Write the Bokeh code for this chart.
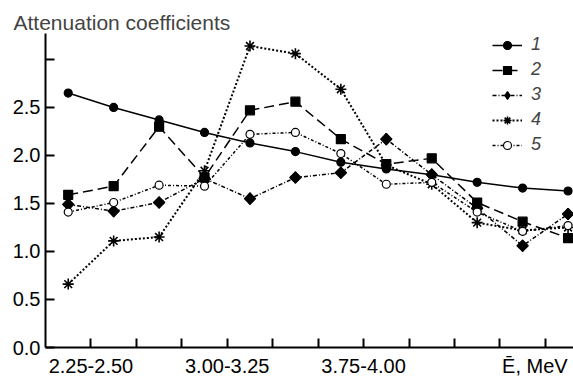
import math
from bokeh.plotting import figure
from bokeh.models import FixedTicker, Legend, LegendItem, Range1d, CustomJSTickFormatter, LinearAxis
from bokeh.embed import file_html
from bokeh.resources import INLINE

# ---- data ----
energy_bins = ["2.25-2.50", "2.50-2.75", "2.75-3.00", "3.00-3.25", "3.25-3.50", "3.50-3.75",
               "3.75-4.00", "4.00-4.25", "4.25-4.50", "4.50-4.75", "4.75-5.00", "5.00-5.25"]
x_idx = list(range(len(energy_bins)))
series_names = ["1", "2", "3", "4", "5"]
s1 = [2.65, 2.50, 2.37, 2.24, 2.13, 2.04, 1.93, 1.86, 1.80, 1.72, 1.66, 1.63]
s2 = [1.59, 1.68, 2.30, 1.77, 2.47, 2.56, 2.17, 1.91, 1.97, 1.51, 1.31, 1.14]
s3 = [1.49, 1.42, 1.51, 1.76, 1.55, 1.77, 1.82, 2.17, 1.80, 1.45, 1.06, 1.39]
s4 = [0.66, 1.11, 1.15, 1.84, 3.14, 3.06, 2.69, 1.90, 1.70, 1.30, 1.22, 1.25]
s5 = [1.41, 1.51, 1.69, 1.68, 2.22, 2.24, 2.02, 1.70, 1.72, 1.41, 1.21, 1.27]
x_tick_pos = [0.5, 1.5, 2.5, 3.5, 4.5, 5.5, 6.5, 7.5, 8.5, 9.5, 10.5]
x_label_pos = [0.5, 3.5, 6.5, 10.27]
x_label_text = ["2.25-2.50", "3.00-3.25", "3.75-4.00", "\u0112, MeV"]
y_ticks = [0.0, 0.5, 1.0, 1.5, 2.0, 2.5, 3.0]
y_title = "Attenuation coefficients"

FONT = "Liberation Sans"

p = figure(width=573, height=379, output_backend="svg", toolbar_location=None,
           x_range=Range1d(-0.5, 11.12), y_range=Range1d(0, 3.27),
           min_border_left=45, min_border_right=0, min_border_top=33, min_border_bottom=29)
p.outline_line_color = None
p.grid.visible = False
p.background_fill_color = "white"

p.title.text = y_title
p.title.text_font = FONT
p.title.text_font_size = "21px"
p.title.text_font_style = "normal"
p.title.align = "left"
p.title.offset = -32
p.title.standoff = 0

for ax in (p.xaxis[0], p.yaxis[0]):
    ax.axis_line_width = 2
    ax.major_tick_line_width = 2
    ax.major_tick_in = 9
    ax.major_tick_out = 0
    ax.minor_tick_line_color = None
    ax.major_label_text_font = FONT
    ax.major_label_text_font_size = "20px"
    ax.major_label_text_color = "black"
    ax.axis_line_color = "black"
    ax.major_tick_line_color = "black"

# tick marks only on the main x axis
p.xaxis.ticker = FixedTicker(ticks=x_tick_pos)
p.xaxis.formatter = CustomJSTickFormatter(code="return '';")
p.xaxis.major_label_text_font_size = "0px"
p.xaxis.major_label_standoff = 0

# labels on a second, line-less axis
lab_axis = LinearAxis(ticker=FixedTicker(ticks=x_label_pos),
                      formatter=CustomJSTickFormatter(args=dict(pos=x_label_pos, labels=x_label_text), code="""
  for (let i = 0; i < pos.length; i++) { if (Math.abs(pos[i] - tick) < 1e-6) return labels[i]; }
  return "";
"""))
lab_axis.axis_line_color = None
lab_axis.major_tick_line_color = None
lab_axis.minor_tick_line_color = None
lab_axis.major_tick_in = 0
lab_axis.major_tick_out = 0
lab_axis.major_label_standoff = 7
lab_axis.major_label_text_font = FONT
lab_axis.major_label_text_font_size = "20px"
lab_axis.major_label_text_color = "black"
p.add_layout(lab_axis, "below")

p.yaxis.ticker = FixedTicker(ticks=y_ticks)
p.yaxis.formatter = CustomJSTickFormatter(code="return tick > 2.9 ? '' : tick.toFixed(1);")
p.yaxis.major_label_standoff = 5

styles = [
    dict(data=s1, dash="solid", width=1.5, marker="circle", size=8, fill="black", mlw=1.2),
    dict(data=s2, dash="10 5", width=1.5, marker="square", size=9, fill="black", mlw=1.2),
    dict(data=s3, dash="4 2 1 2", width=1.5, marker="diamond", size=11.5, fill="black", mlw=1.2),
    dict(data=s4, dash="2 2", width=2, marker="asterisk", size=11, fill="black", mlw=1.6),
    dict(data=s5, dash="3 2 1 2", width=1.5, marker="circle", size=8, fill="white", mlw=1.2),
]

items = []
for name, st in zip(series_names, styles):
    r_line = p.line(x_idx, st["data"], line_color="black", line_width=st["width"], line_dash=st["dash"])
    r_mark = p.scatter(x_idx, st["data"], marker=st["marker"], size=st["size"],
                       fill_color=st["fill"], line_color="black", line_width=st["mlw"])
    if st["marker"] == "diamond":
        # wider, square-shaped diamond drawn over the key-shaped one
        p.scatter(x_idx, st["data"], marker="square", size=8, angle=math.pi / 4,
                  fill_color=st["fill"], line_color="black", line_width=st["mlw"])
    items.append(LegendItem(label=name, renderers=[r_line, r_mark]))

legend = Legend(items=items, location="top_right", margin=0, padding=1,
                glyph_width=30, glyph_height=20, label_height=20, spacing=4,
                label_standoff=9, label_width=41,
                label_text_font=FONT, label_text_font_size="18px", label_text_font_style="italic",
                background_fill_alpha=0, border_line_alpha=0)
p.add_layout(legend, "center")

open("out.html", "w").write(file_html(p, INLINE))
